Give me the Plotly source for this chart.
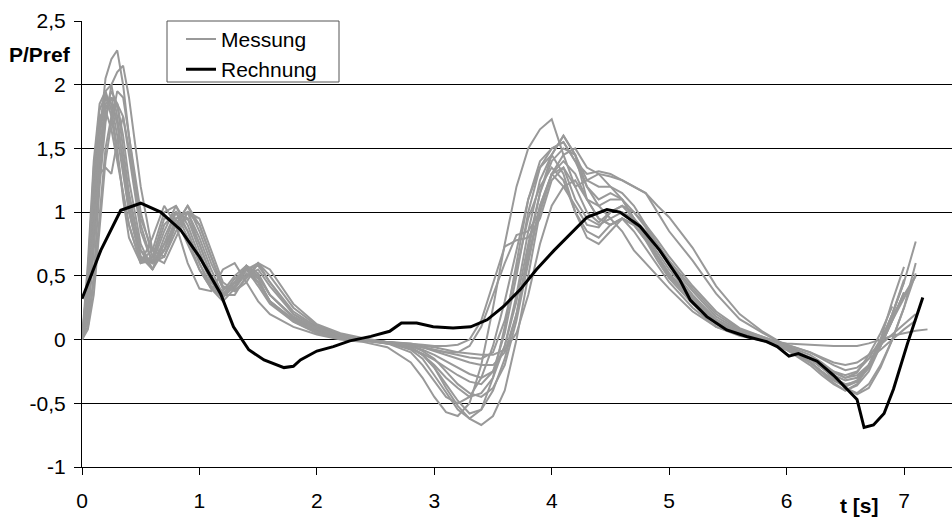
import plotly.graph_objects as go

# ---- Data -------------------------------------------------------------
# common time grid of the measured curves [s]
mess_t = [0, 0.05, 0.1, 0.15, 0.2, 0.25, 0.3, 0.35, 0.4,
          0.5, 0.6, 0.7, 0.8, 0.9, 1.0, 1.1, 1.2, 1.3, 1.4, 1.5, 1.6,
          1.8, 2.0, 2.2, 2.4, 2.6, 2.8,
          2.9, 3.0, 3.1, 3.2, 3.3, 3.4, 3.5, 3.6, 3.7, 3.8, 3.9,
          4.0, 4.1, 4.2, 4.3, 4.4, 4.5, 4.6, 4.7, 4.8, 4.9, 5.0,
          5.2, 5.4, 5.6, 5.8, 6.0, 6.2, 6.3, 6.4, 6.5, 6.6, 6.7, 6.8, 6.9, 7.0, 7.1, 7.2]

mess_a = [0, 0.25, 0.9, 1.6, 2.05, 2.2, 2.27, 2.0, 1.6,
          0.9, 0.6, 0.75, 1.0, 0.95, 0.75, 0.5, 0.35, 0.45, 0.58, 0.5, 0.35,
          0.18, 0.08, 0.02, -0.01, -0.02, -0.08,
          -0.15, -0.28, -0.42, -0.55, -0.62, -0.55, -0.3, 0.1, 0.6, 1.1, 1.4,
          1.5, 1.55, 1.4, 1.2, 1.05, 0.95, 1.0, 0.95, 0.85, 0.75, 0.62,
          0.4, 0.2, 0.08, 0.02, -0.05, -0.18, -0.25, -0.32, -0.36, -0.32, -0.2, -0.02, 0.2, 0.45, 0.77, None]
mess_b = [0, 0.6, 1.4, 1.85, 1.95, 1.8, 1.5, 1.1, 0.8,
          0.6, 0.8, 1.05, 0.9, 0.6, 0.4, 0.38, 0.55, 0.6, 0.45, 0.3, 0.2,
          0.1, 0.04, 0.0, -0.02, -0.06, -0.18,
          -0.3, -0.45, -0.57, -0.6, -0.5, -0.2, 0.25, 0.75, 1.2, 1.5, 1.65,
          1.73, 1.45, 1.2, 1.25, 1.3, 1.2, 1.1, 0.95, 0.8, 0.65, 0.5,
          0.3, 0.15, 0.05, 0.0, -0.08, -0.2, -0.28, -0.35, -0.4, -0.35, -0.2, 0.0, 0.3, 0.57, None, None]
mess_c = [0, 0.1, 0.5, 1.2, 1.7, 2.0, 2.1, 2.15, 1.9,
          1.2, 0.7, 0.65, 0.9, 1.05, 0.9, 0.65, 0.4, 0.4, 0.55, 0.6, 0.45,
          0.22, 0.1, 0.03, 0.0, -0.03, -0.06,
          -0.12, -0.22, -0.38, -0.52, -0.62, -0.67, -0.6, -0.4, 0.0, 0.5, 1.0,
          1.3, 1.45, 1.5, 1.35, 1.3, 1.28, 1.25, 1.2, 1.15, 1.0, 0.85,
          0.62, 0.36, 0.16, 0.05, -0.05, -0.15, -0.22, -0.3, -0.38, -0.42, -0.35, -0.2, 0.0, 0.25, 0.52, None]
mess_d = [0, 0.4, 1.2, 1.7, 1.9, 1.85, 1.6, 1.3, 1.0,
          0.65, 0.55, 0.8, 1.0, 0.85, 0.6, 0.4, 0.3, 0.4, 0.52, 0.45, 0.3,
          0.15, 0.06, 0.01, -0.01, -0.02, -0.03,
          -0.04, -0.05, -0.05, -0.04, 0.0, 0.15, 0.45, 0.73, 0.78, 0.8, 0.95,
          1.25, 1.35, 1.1, 0.95, 0.9, 0.95, 0.85, 0.7, 0.6, 0.5, 0.4,
          0.22, 0.1, 0.04, 0.0, -0.03, -0.04, -0.05, -0.05, -0.05, -0.05, -0.03, 0.0, 0.03, 0.05, 0.07, 0.08]
mess_e = [0, 0.2, 0.8, 1.4, 1.8, 1.95, 1.85, 1.5, 1.15,
          0.7, 0.6, 0.7, 0.95, 1.0, 0.75, 0.5, 0.35, 0.42, 0.55, 0.5, 0.35,
          0.17, 0.07, 0.02, 0.0, -0.02, -0.04,
          -0.06, -0.08, -0.1, -0.1, -0.05, 0.1, 0.35, 0.6, 0.82, 0.85, 1.0,
          1.3, 1.2, 1.05, 0.9, 0.88, 1.0, 1.05, 0.95, 0.8, 0.65, 0.52,
          0.3, 0.14, 0.05, 0.0, -0.04, -0.1, -0.15, -0.2, -0.24, -0.22, -0.15, -0.08, 0.0, 0.08, 0.15, None]
mess_f = [0, 0.3, 1.0, 1.6, 1.9, 1.85, 1.7, 1.4, 1.05,
          0.65, 0.6, 0.85, 1.05, 0.9, 0.65, 0.45, 0.38, 0.5, 0.58, 0.45, 0.3,
          0.16, 0.07, 0.02, 0.0, -0.02, -0.05,
          -0.08, -0.12, -0.17, -0.22, -0.27, -0.3, -0.25, -0.05, 0.35, 0.85, 1.25,
          1.45, 1.6, 1.45, 1.2, 1.1, 1.15, 1.1, 0.95, 0.82, 0.68, 0.55,
          0.33, 0.15, 0.06, 0.01, -0.06, -0.15, -0.22, -0.28, -0.32, -0.3, -0.2, -0.02, 0.2, 0.45, None, None]
mess_g = [0, 0.15, 0.7, 1.3, 1.75, 1.9, 1.85, 1.6, 1.25,
          0.75, 0.55, 0.7, 0.95, 1.0, 0.8, 0.55, 0.35, 0.35, 0.5, 0.55, 0.42,
          0.2, 0.09, 0.03, 0.0, -0.03, -0.07,
          -0.12, -0.2, -0.3, -0.38, -0.45, -0.42, -0.3, -0.05, 0.3, 0.75, 1.15,
          1.4, 1.5, 1.45, 1.25, 1.2, 1.2, 1.15, 1.05, 0.9, 0.75, 0.6,
          0.38, 0.18, 0.07, 0.01, -0.07, -0.17, -0.25, -0.32, -0.37, -0.33, -0.22, -0.05, 0.15, 0.33, 0.5, None]
mess_h = [0, 0.5, 1.3, 1.75, 1.8, 1.65, 1.4, 1.15, 0.9,
          0.6, 0.65, 0.95, 0.95, 0.75, 0.55, 0.4, 0.35, 0.48, 0.55, 0.42, 0.28,
          0.14, 0.06, 0.02, 0.0, -0.02, -0.04,
          -0.06, -0.09, -0.12, -0.15, -0.18, -0.2, -0.2, -0.1, 0.2, 0.65, 1.05,
          1.3, 1.4, 1.3, 1.1, 0.95, 0.9, 0.95, 0.9, 0.78, 0.65, 0.5,
          0.3, 0.13, 0.05, 0.0, -0.05, -0.12, -0.18, -0.25, -0.3, -0.28, -0.2, -0.05, 0.15, 0.37, None, None]
mess_i = [0, 0.1, 0.45, 1.0, 1.5, 1.75, 1.85, 1.75, 1.45,
          0.85, 0.6, 0.65, 0.85, 1.0, 0.9, 0.65, 0.42, 0.38, 0.48, 0.6, 0.5,
          0.25, 0.11, 0.04, 0.0, -0.02, -0.03,
          -0.05, -0.06, -0.08, -0.1, -0.11, -0.12, -0.12, -0.08, 0.05, 0.35, 0.75,
          1.05, 1.2, 1.25, 1.1, 1.05, 1.1, 1.1, 1.0, 0.9, 0.78, 0.65,
          0.42, 0.22, 0.09, 0.02, -0.04, -0.1, -0.14, -0.18, -0.2, -0.18, -0.12, -0.04, 0.04, 0.12, 0.2, None]
mess_j = [0, 0.35, 1.1, 1.65, 1.95, 2.0, 1.75, 1.35, 1.0,
          0.62, 0.7, 1.0, 1.05, 0.85, 0.6, 0.42, 0.36, 0.45, 0.58, 0.52, 0.35,
          0.18, 0.08, 0.02, -0.01, -0.03, -0.1,
          -0.2, -0.33, -0.45, -0.5, -0.45, -0.3, -0.05, 0.3, 0.7, 1.1, 1.35,
          1.5, 1.55, 1.4, 1.3, 1.32, 1.3, 1.25, 1.2, 1.15, 1.05, 0.96,
          0.72, 0.42, 0.2, 0.06, -0.05, -0.15, -0.22, -0.3, -0.38, -0.43, -0.38, -0.22, 0.0, 0.25, 0.6, None]
mess_k = [0, 0.2, 0.9, 1.5, 1.85, 1.9, 1.7, 1.4, 1.1,
          0.7, 0.55, 0.75, 0.9, 0.95, 0.7, 0.45, 0.33, 0.42, 0.56, 0.48, 0.3,
          0.15, 0.06, 0.01, -0.01, -0.03, -0.07,
          -0.11, -0.16, -0.22, -0.28, -0.33, -0.35, -0.25, 0.05, 0.5, 1.0, 1.35,
          1.45, 1.3, 1.0, 0.8, 0.75, 0.85, 0.95, 0.9, 0.78, 0.62, 0.48,
          0.28, 0.12, 0.04, -0.01, -0.08, -0.18, -0.26, -0.34, -0.4, -0.36, -0.25, -0.05, 0.2, 0.47, None, None]
mess_l = [0, 0.5, 1.35, 1.8, 1.92, 1.75, 1.45, 1.15, 0.9,
          0.6, 0.62, 0.9, 1.0, 0.8, 0.55, 0.4, 0.33, 0.45, 0.55, 0.45, 0.3,
          0.14, 0.05, 0.01, -0.01, -0.02, -0.04,
          -0.06, -0.08, -0.1, -0.12, -0.14, -0.15, -0.1, 0.15, 0.55, 0.95, 1.2,
          1.35, 1.25, 1.0, 0.85, 0.8, 0.9, 0.95, 0.85, 0.72, 0.58, 0.45,
          0.25, 0.1, 0.03, -0.01, -0.06, -0.14, -0.2, -0.26, -0.3, -0.26, -0.12, 0.05, 0.26, None, None, None]
mess_m = [0, 0.08, 0.35, 0.9, 1.4, 1.7, 1.95, 1.9, 1.6,
          1.0, 0.65, 0.6, 0.8, 1.0, 0.95, 0.7, 0.45, 0.38, 0.45, 0.6, 0.55,
          0.28, 0.12, 0.05, 0.01, -0.02, -0.06,
          -0.12, -0.22, -0.35, -0.48, -0.58, -0.55, -0.4, -0.15, 0.2, 0.7, 1.15,
          1.45, 1.6, 1.45, 1.1, 0.95, 0.9, 0.95, 0.9, 0.8, 0.66, 0.52,
          0.32, 0.15, 0.05, 0.0, -0.07, -0.15, -0.2, -0.25, -0.28, -0.25, -0.15, 0.0, 0.18, 0.35, 0.5, None]
mess_n = [0, 0.3, 0.9, 1.3, 1.35, 1.3, 1.55, 1.75, 1.5,
          0.95, 0.7, 0.7, 0.9, 1.05, 0.85, 0.6, 0.4, 0.42, 0.55, 0.58, 0.45,
          0.2, 0.09, 0.03, 0.0, -0.02, -0.05,
          -0.09, -0.15, -0.25, -0.35, -0.42, -0.45, -0.38, -0.2, 0.15, 0.6, 1.05,
          1.3, 1.35, 1.2, 1.0, 0.92, 1.0, 1.05, 1.0, 0.88, 0.72, 0.58,
          0.35, 0.16, 0.06, 0.01, -0.06, -0.15, -0.22, -0.3, -0.35, -0.33, -0.22, -0.05, 0.15, 0.37, None, None]

messungen = [mess_a, mess_b, mess_c, mess_d, mess_e, mess_f, mess_g,
             mess_h, mess_i, mess_j, mess_k, mess_l, mess_m, mess_n]

# calculated curve
rech_t = [0, 0.16, 0.33, 0.5, 0.67, 0.84, 1.0, 1.09, 1.18, 1.29, 1.35, 1.42,
          1.55, 1.72, 1.80, 1.86, 2.0, 2.14, 2.28, 2.46, 2.62, 2.72, 2.85, 2.99,
          3.16, 3.31, 3.45, 3.59, 3.73, 3.87, 4.02, 4.16, 4.30, 4.47, 4.58, 4.75,
          4.92, 5.09, 5.18, 5.32, 5.49, 5.66, 5.83, 5.92, 6.02, 6.10, 6.26, 6.40,
          6.51, 6.60, 6.66, 6.74, 6.83, 6.91, 7.03, 7.16]
rech_p = [0.32, 0.70, 1.015, 1.07, 1.0, 0.86, 0.65, 0.5, 0.36, 0.1, 0.02, -0.08,
          -0.16, -0.22, -0.21, -0.16, -0.09, -0.055, -0.01, 0.025, 0.065, 0.13, 0.13, 0.10,
          0.09, 0.10, 0.155, 0.26, 0.39, 0.55, 0.70, 0.83, 0.96, 1.02, 1.0, 0.89,
          0.70, 0.47, 0.31, 0.18, 0.076, 0.024, -0.016, -0.055, -0.13, -0.11, -0.17, -0.28,
          -0.38, -0.47, -0.69, -0.67, -0.58, -0.39, -0.03, 0.33]

x_ticks = [0, 1, 2, 3, 4, 5, 6, 7]
y_tickvals = [-1, -0.5, 0, 0.5, 1, 1.5, 2, 2.5]
y_ticktext = ["-1", "-0,5", "0", "0,5", "1", "1,5", "2", "2,5"]

# ---- Figure -----------------------------------------------------------
FONT = "Liberation Sans, Arial, sans-serif"
GRAY = "#999999"

fig = go.Figure()
for i, ys in enumerate(messungen):
    fig.add_trace(go.Scatter(
        x=mess_t, y=ys, mode="lines", name="Messung",
        line=dict(color=GRAY, width=2),
        legendgroup="mess", showlegend=(i == 0),
        connectgaps=False, hoverinfo="skip"))

fig.add_trace(go.Scatter(
    x=rech_t, y=rech_p, mode="lines", name="Rechnung",
    line=dict(color="#000000", width=3), legendgroup="rech"))

W, H = 952, 518
L, T, B, R = 82, 21, 51, 0
PW, PH = W - L - R, H - T - B
x_max = PW / 117.43

fig.update_layout(
    width=W, height=H,
    margin=dict(l=L, r=R, t=T, b=B, pad=0),
    paper_bgcolor="white", plot_bgcolor="white",
    font=dict(family=FONT, size=21, color="#000000"),
    showlegend=True,
    legend=dict(x=(181 - L) / PW, y=1.005, xanchor="left", yanchor="top",
                bgcolor="rgba(0,0,0,0)", borderwidth=0, tracegroupgap=0,
                font=dict(family=FONT, size=21, color="#000000")),
    xaxis=dict(range=[0, x_max], tickvals=x_ticks, showgrid=False, zeroline=False,
               showline=True, linecolor="#000000", linewidth=1,
               ticks="outside", ticklen=7, tickcolor="#000000", tickwidth=1,
               ticklabelstandoff=8),
    yaxis=dict(range=[-1, 2.5], tickvals=y_tickvals, ticktext=y_ticktext,
               showgrid=True, gridcolor="#000000", gridwidth=1, zeroline=False,
               showline=True, linecolor="#000000", linewidth=1,
               ticks="outside", ticklen=7, tickcolor="#000000", tickwidth=1,
               ticklabelstandoff=4),
    shapes=[dict(type="rect", xref="paper", yref="paper",
                 x0=(167 - L) / PW, x1=(339 - L) / PW,
                 y0=(H - B - 82) / PH, y1=1.0,
                 line=dict(color="#555555", width=1), fillcolor="white",
                 layer="above")],
    annotations=[
        dict(text="<b>P/Pref</b>", xref="paper", x=-0.01, xanchor="right",
             yref="y", y=2.235, yanchor="middle", showarrow=False,
             font=dict(family=FONT, size=21)),
        dict(text="<b>t [s]</b>", xref="x", x=6.62, xanchor="center",
             yref="paper", y=(H - B - 505) / PH, yanchor="middle", showarrow=False,
             font=dict(family=FONT, size=21)),
    ],
)

fig.write_html(
    "out.html",
    config={"displayModeBar": False},
    post_script="document.body.style.margin='0';document.body.style.padding='0';",
)
